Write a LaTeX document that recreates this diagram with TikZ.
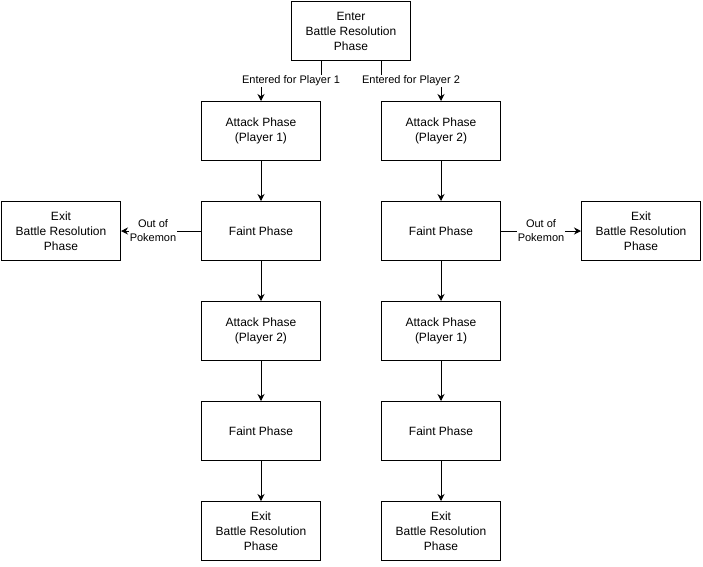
\documentclass[tikz,border=0pt]{standalone}
\usepackage{fontspec}
\setmainfont{Liberation Sans}
\usetikzlibrary{arrows.meta, positioning}

\begin{document}
\begin{tikzpicture}[x=1pt, y=-1pt, line width=1pt,
  phase/.style={draw, minimum width=119pt, minimum height=59pt, align=center, inner sep=0pt, font=\fontsize{12}{15}\selectfont},
  lbl/.style={fill=white, align=center, inner sep=1pt, font=\fontsize{11}{14}\selectfont},
  flow/.style={-{Stealth[length=7pt, width=7pt]}}]
  \useasboundingbox (0,0) rectangle (703,566);
  % entry
  \node[phase] (enter) at (351,31) {Enter\\Battle Resolution\\Phase};
  % player 1 first
  \node[phase] (att1a) at (261,131) {Attack Phase\\(Player 1)};
  \node[phase] (faint1a) at (261,231) {Faint Phase};
  \node[phase] (att1b) at (261,331) {Attack Phase\\(Player 2)};
  \node[phase] (faint1b) at (261,431) {Faint Phase};
  \node[phase] (exit1) at (261,531) {Exit\\Battle Resolution\\Phase};
  \node[phase] (exitL) at (61,231) {Exit\\Battle Resolution\\Phase};
  % player 2 first
  \node[phase] (att2a) at (441,131) {Attack Phase\\(Player 2)};
  \node[phase] (faint2a) at (441,231) {Faint Phase};
  \node[phase] (att2b) at (441,331) {Attack Phase\\(Player 1)};
  \node[phase] (faint2b) at (441,431) {Faint Phase};
  \node[phase] (exit2) at (441,531) {Exit\\Battle Resolution\\Phase};
  \node[phase] (exitR) at (641,231) {Exit\\Battle Resolution\\Phase};

  \draw[flow] ([xshift=-30pt]enter.south) -- ++(0,20) -| node[lbl, pos=0.25] {Entered for Player 1} (att1a.north);
  \draw[flow] ([xshift=30pt]enter.south) -- ++(0,20) -| node[lbl, pos=0.25] {Entered for Player 2} (att2a.north);
  \draw[flow] (att1a) -- (faint1a);
  \draw[flow] (faint1a) -- (att1b);
  \draw[flow] (att1b) -- (faint1b);
  \draw[flow] (faint1b) -- (exit1);
  \draw[flow] (att2a) -- (faint2a);
  \draw[flow] (faint2a) -- (att2b);
  \draw[flow] (att2b) -- (faint2b);
  \draw[flow] (faint2b) -- (exit2);
  \draw[flow] (faint1a) -- node[lbl, pos=0.6] {Out of\\Pokemon} (exitL);
  \draw[flow] (faint2a) -- node[lbl] {Out of\\Pokemon} (exitR);
\end{tikzpicture}
\end{document}
